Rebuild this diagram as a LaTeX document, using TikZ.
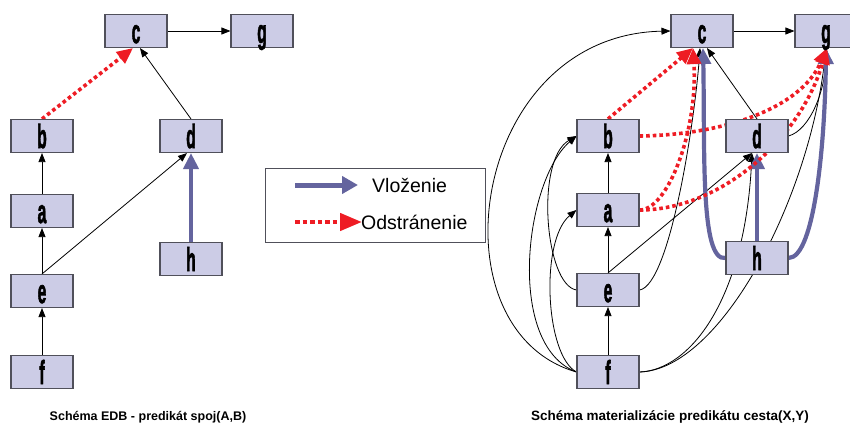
\documentclass[tikz,border=0pt]{standalone}
\usepackage{fontspec}
\usepackage{graphicx}
\setmainfont{Liberation Sans}
\newfontfamily\labfont[FakeBold=2.5]{Liberation Sans Bold}
\usetikzlibrary{arrows.meta}
\definecolor{nodefill}{RGB}{204,204,230}
\definecolor{nodeline}{RGB}{80,80,90}
\definecolor{ins}{RGB}{100,100,158}
\definecolor{del}{RGB}{238,28,36}
\pgfdeclarelayer{bg}
\pgfsetlayers{bg,main}
\newcommand{\lab}[1]{\labfont\fontsize{19}{19}\selectfont\scalebox{0.82}[1.75]{#1}}
\tikzset{
  box/.style={draw=nodeline, line width=1.1pt, fill=nodefill, minimum width=62pt,
    minimum height=33pt, inner sep=0pt, text height=24pt, text depth=0pt},
  blk/.style={draw=black, line width=0.8pt, -{Triangle[length=9pt,width=7pt]}},
  insarr/.style={draw=ins, line width=4.2pt, -{Triangle[length=16pt,width=15pt]}},
  delarr/.style={draw=del, line width=3.6pt, dash pattern=on 3.6pt off 3pt,
    -{Triangle[length=16pt,width=14pt]}},
  legins/.style={draw=ins, line width=5pt, -{Triangle[length=16pt,width=17pt]}},
  legdel/.style={draw=del, line width=4.5pt, dash pattern=on 4.5pt off 3pt,
    -{Triangle[length=22pt,width=17pt]}},
  legtext/.style={anchor=west, inner sep=0pt, font=\fontsize{19.5}{19.5}\selectfont},
  caption/.style={anchor=base, inner sep=0pt}
}
\begin{document}
\begin{tikzpicture}[x=1pt,y=-1pt]
\useasboundingbox (0,0) rectangle (850,423);
\clip (0,0) rectangle (850,423);

% left diagram nodes
\node[box] (lc) at (136,31) {\lab{c}};
\node[box] (lg) at (262,31) {\lab{g}};
\node[box] (lb) at (42,136) {\lab{b}};
\node[box] (ld) at (191,136) {\lab{d}};
\node[box] (la) at (42,211) {\lab{a}};
\node[box] (lh) at (191,259) {\lab{h}};
\node[box] (le) at (42,291) {\lab{e}};
\node[box] (lf) at (42,372) {\lab{f}};

% right diagram nodes
\node[box] (rc) at (702,31) {\lab{c}};
\node[box] (rg) at (826,31) {\lab{g}};
\node[box] (rb) at (608,136) {\lab{b}};
\node[box] (rd) at (757,136) {\lab{d}};
\node[box] (ra) at (608,210) {\lab{a}};
\node[box] (rh) at (757,258) {\lab{h}};
\node[box] (re) at (608,290) {\lab{e}};
\node[box] (rf) at (608,372) {\lab{f}};

\begin{pgfonlayer}{bg}
% left edges
\draw[blk] (lc) -- (lg);
\draw[blk] (lf) -- (le);
\draw[blk] (le) -- (la);
\draw[blk] (la) -- (lb);
\draw[blk] (ld.north) -- ([xshift=4pt]lc.south);
\draw[blk] (le.north) -- ([xshift=-4pt]ld.south);
\draw[insarr] (lh) -- (ld);
\draw[delarr] (lb.north) -- ([xshift=-3pt]lc.south);

% right edges: black
\draw[blk] (rc) -- (rg);
\draw[blk] (rf) -- (re);
\draw[blk] (re) -- (ra);
\draw[blk] (ra) -- (rb);
\draw[blk] (rd.north) -- ([xshift=5pt]rc.south);
\draw[blk] (re.north) -- ([xshift=-5pt]rd.south);
\draw[blk] (rf.west) .. controls (430,330) and (470,35) .. (rc.west);
\draw[blk] (rf.west) .. controls (505,345) and (525,180) .. (rb.west);
\draw[blk] (rf.west) .. controls (545,355) and (540,240) .. (ra.west);
\draw[blk] (re.west) .. controls (545,285) and (535,160) .. (rb.west);
\draw[blk] (re.east) .. controls (670,285) and (695,120) .. ([xshift=-2pt]rc.south);
\draw[blk] (rd.east) .. controls (810,130) and (826,90) .. (rg.south);
\draw[blk] (rf.east) .. controls (690,370) and (745,300) .. ([xshift=-5pt]rd.south);
\draw[blk] (rf.east) .. controls (720,370) and (810,200) .. (rg.south);

% right edges: inserted
\draw[insarr] (rh) -- (rd);
\draw[insarr] (rh.west) .. controls (700,262) and (705,150) .. ([xshift=1pt]rc.south);
\draw[insarr] (rh.east) .. controls (815,258) and (825,140) .. (rg.south);

% right edges: deleted
\draw[delarr] (rb.north) -- ([xshift=-9pt]rc.south);
\draw[delarr] (ra.east) .. controls (668,210) and (698,130) .. ([xshift=-9pt]rc.south);
\draw[delarr] (rb.east) .. controls (720,135) and (800,110) .. ([xshift=1pt]rg.south);
\draw[delarr] (ra.east) .. controls (720,210) and (800,140) .. ([xshift=1pt]rg.south);
\end{pgfonlayer}

% legend
\node[draw=nodeline, line width=0.8pt, minimum width=220pt, minimum height=74pt, inner sep=0pt] (leg) at (375,205) {};
\coordinate (v1) at (295,185);
\coordinate (v2) at (358,185);
\coordinate (o1) at (295,222);
\coordinate (o2) at (362,222);
\draw[legins] (v1) -- (v2);
\draw[legdel] (o1) -- (o2);
\node[legtext] (vt) at (372,185) {Vloženie};
\node[legtext] (ot) at (361,222) {Odstránenie};

% captions
\node[caption, font=\bfseries\fontsize{12.5}{12.5}\selectfont] (cap1) at (148,420.5) {Schéma EDB - predikát spoj(A,B)};
\node[caption, font=\bfseries\fontsize{13.5}{13.5}\selectfont] (cap2) at (670,420.5) {Schéma materializácie predikátu cesta(X,Y)};
\end{tikzpicture}
\end{document}
